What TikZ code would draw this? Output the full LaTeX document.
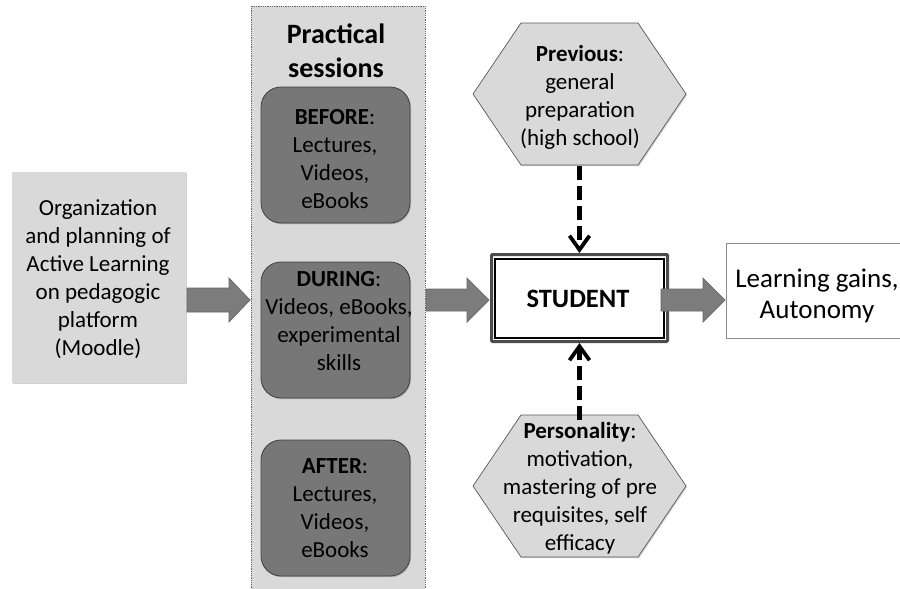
\documentclass[tikz,border=0pt]{standalone}
\usepackage{fontspec}
\setmainfont{Carlito}
\usetikzlibrary{shadows,arrows.meta}
\definecolor{lg}{HTML}{D9D9D9}
\definecolor{dg}{HTML}{777777}
\definecolor{ag}{HTML}{7C7C7C}
\tikzset{x=1pt,y=-1pt,
 softshadow/.style={drop shadow={shadow xshift=1pt,shadow yshift=-1.2pt,opacity=.18,fill=black}},
 txt/.style={align=center,font=\fontsize{23}{28}\selectfont,text=black,inner sep=0pt},
 rbox/.style={draw=black!75,fill=dg,rounded corners=20pt,line width=0.8pt,softshadow},
 blockarrow/.style={draw=black!60,fill=ag,line width=0.7pt},
 hex/.style={draw=black!65,fill=lg,line width=0.7pt,softshadow},
 dasharrow/.style={line width=5pt,dash pattern=on 14pt off 6pt,-{Straight Barb[length=14pt,width=20pt,line width=3.8pt]}}
}
\begin{document}
\begin{tikzpicture}
\useasboundingbox (0,0) rectangle (900,589);
\fill[white] (0,0) rectangle (900,589);
% left box
\fill[lg,softshadow] (12,172) rectangle (186,383);
\node[txt] (org) at (98,279) {Organization\\and planning of\\Active Learning\\on pedagogic\\platform\\(Moodle)};
% column
\draw[fill=lg,draw=black!60,densely dotted,line width=0.8pt] (251,6) rectangle (425,589);
\node[txt,font=\fontsize{28}{34}\selectfont\bfseries] (ps) at (336,51) {Practical\\sessions};
\draw[rbox] (261,87) rectangle (410,223);
\draw[rbox] (261,262) rectangle (410,398);
\draw[rbox] (261,440) rectangle (410,576);
\node[txt] (before) at (335,159) {\textbf{BEFORE}:\\Lectures,\\Videos,\\eBooks};
\node[txt] (during) at (339,321) {\textbf{DURING}:\\Videos, eBooks,\\experimental\\skills};
\node[txt] (after) at (335,508) {\textbf{AFTER}:\\Lectures,\\Videos,\\eBooks};
% arrows
\draw[blockarrow] (187,288) -- (229,288) -- (229,278) -- (250,300) -- (229,322) -- (229,312) -- (187,312) -- cycle;
\draw[blockarrow] (426,289) -- (467,289) -- (467,278) -- (489,300) -- (467,322) -- (467,311) -- (426,311) -- cycle;
% student
\node[draw=black!70,line width=3pt,fill=white,minimum width=176pt,minimum height=87pt,inner sep=0pt,outer sep=1.5pt,rounded corners=1pt,softshadow] (st) at (579.5,298) {};
\draw[black,line width=2pt] (495,259) rectangle (664,338);
\node[txt,font=\fontsize{26.5}{30}\selectfont\bfseries] (stt) at (578,299) {STUDENT};
\draw[blockarrow] (661,289) -- (703,289) -- (703,278) -- (725,300) -- (703,322) -- (703,311) -- (661,311) -- cycle;
% gains
\node[draw=black!45,fill=white,line width=0.8pt,minimum width=180pt,minimum height=95pt,inner sep=0pt,softshadow] (lg) at (816,290.5) {};
\node[txt,font=\fontsize{27}{31}\selectfont] (lgt) at (817,296) {Learning gains,\\Autonomy};
% hexagons
\draw[hex] (473,94) -- (521,23) -- (638,23) -- (686,94) -- (638,165) -- (521,165) -- cycle;
\draw[hex] (473,486) -- (521,415) -- (638,415) -- (686,486) -- (638,557) -- (521,557) -- cycle;
\node[txt] (prev) at (580,97) {\textbf{Previous}:\\general\\preparation\\(high school)};
\node[txt] (pers) at (580,488) {\textbf{Personality}:\\motivation,\\mastering of pre\\requisites, self\\efficacy};
\coordinate (p1) at (579.5,166);
\coordinate (p2) at (579.5,420);
\draw[dasharrow] (p1) -- (st.north);
\draw[dasharrow] (p2) -- (st.south);
\end{tikzpicture}
\end{document}
